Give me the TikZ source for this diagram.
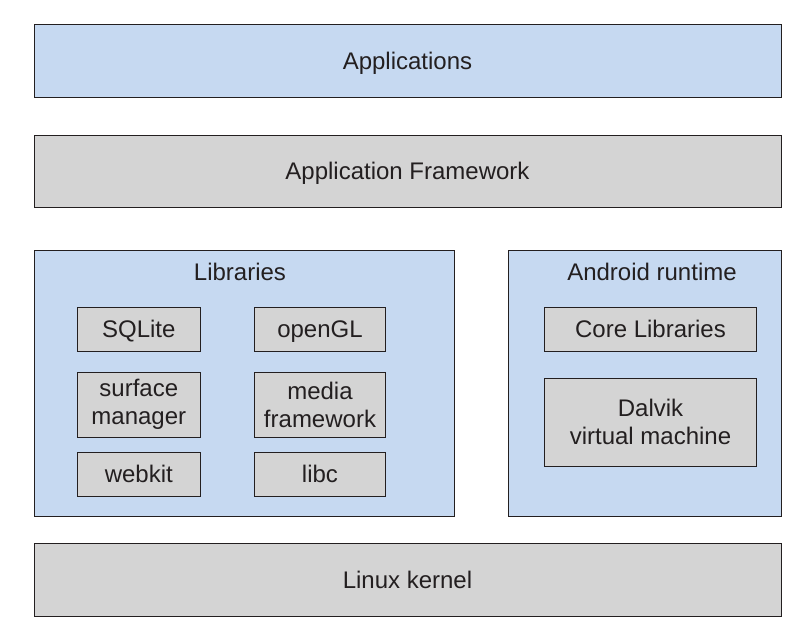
\documentclass[tikz,border=0pt]{standalone}
\usepackage{fontspec}
\setmainfont{Liberation Sans}
\definecolor{layerblue}{HTML}{C6D9F1}
\definecolor{layergray}{HTML}{D4D4D4}
\definecolor{edgeblack}{HTML}{231F20}
\begin{document}
\begin{tikzpicture}[x=1pt,y=-1pt,
    box/.style={draw=edgeblack, line width=1pt, inner sep=0pt, align=center,
      text=edgeblack, font=\fontsize{24}{28}\selectfont},
    bluebox/.style={box, fill=layerblue},
    graybox/.style={box, fill=layergray},
    oneline/.style={text height=17pt, text depth=0pt},
    title/.style={inner sep=0pt, text=edgeblack, font=\fontsize{24}{28}\selectfont}]
  \useasboundingbox (0,0) rectangle (808,634);
  % layers
  \node[bluebox, oneline, minimum width=747pt, minimum height=72pt] (apps) at (407.5,61) {Applications};
  \node[graybox, oneline, minimum width=747pt, minimum height=72pt] (framework) at (407.5,171) {Application Framework};
  \node[bluebox, minimum width=420pt, minimum height=266pt] (libs) at (244,383) {};
  \node[bluebox, minimum width=273pt, minimum height=266pt] (runtime) at (644.5,383) {};
  \node[graybox, oneline, minimum width=747pt, minimum height=73pt] (kernel) at (407.5,579.5) {Linux kernel};
  \node[title] (libstitle) at (240,272) {Libraries};
  \node[title] (runtimetitle) at (652,272) {Android runtime};
  % libraries
  \node[graybox, oneline, minimum width=123pt, minimum height=44pt] (sqlite) at (138.8,329.3) {SQLite};
  \node[graybox, oneline, minimum width=131pt, minimum height=44pt] (opengl) at (320,329.3) {openGL};
  \node[graybox, minimum width=123pt, minimum height=65pt] (surface) at (138.8,404.5) {surface\\manager};
  \node[graybox, minimum width=131pt, minimum height=65pt] (media) at (320,404.5) {media\\framework};
  \node[graybox, oneline, minimum width=123pt, minimum height=44pt] (webkit) at (138.8,474.3) {webkit};
  \node[graybox, oneline, minimum width=131pt, minimum height=44pt] (libc) at (320,474.3) {libc};
  % runtime
  \node[graybox, oneline, minimum width=212pt, minimum height=44pt] (core) at (650.5,329.2) {Core Libraries};
  \node[graybox, minimum width=212pt, minimum height=88pt] (dalvik) at (650.5,422.3) {Dalvik\\virtual machine};
\end{tikzpicture}
\end{document}
